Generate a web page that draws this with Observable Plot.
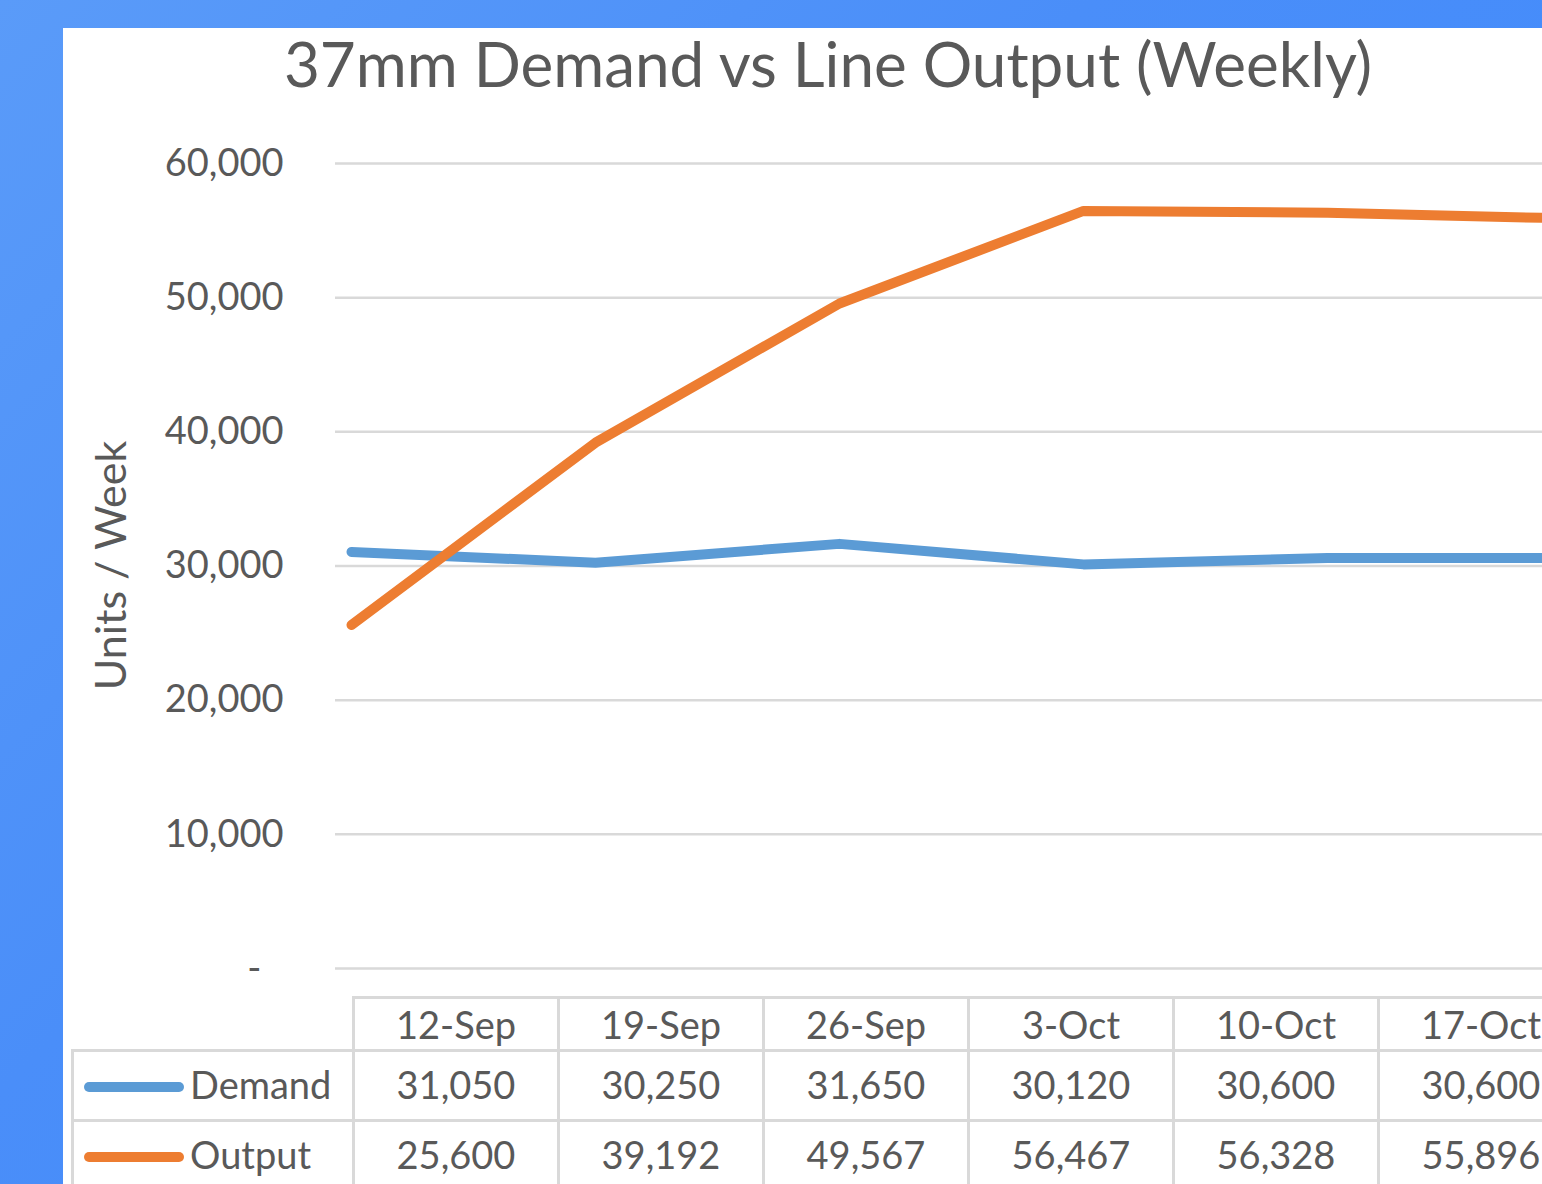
<!DOCTYPE html>
<html>
<head>
<meta charset="utf-8">
<script src="https://cdn.jsdelivr.net/npm/d3@7"></script>
<script src="https://cdn.jsdelivr.net/npm/@observablehq/plot@0.6"></script>
<style>
  html, body { margin: 0; padding: 0; }
  body {
    width: 1542px; height: 1184px; overflow: hidden; position: relative;
    background: linear-gradient(135deg, #5a9bf9 0%, #4a8ef9 40%, #3d89fd 100%);
    font-family: Lato, "Open Sans", sans-serif; color: #595959;
  }
  #panel { position: absolute; left: 63px; top: 28px; width: 1600px; height: 1200px; background: #fff; }
  #title { position: absolute; left: 0; top: 32px; width: 1656px; text-align: center;
    font-size: 62px; line-height: 1; color: #595959; white-space: nowrap; }
  #chart { position: absolute; left: 0; top: 0; width: 1620px; }
  #chart svg { max-width: none !important; }
  #tbl { position: absolute; left: 71px; top: 996px; width: 1509px; border-collapse: collapse; table-layout: fixed;
    font-size: 38px; color: #595959; }
  #tbl td, #tbl th { border: 3px solid #d9d9d9; text-align: center; font-weight: normal; padding: 0; white-space: nowrap; overflow: hidden; }
  #tbl tr.head th { height: 50px; }
  #tbl tr.row td { height: 63px; padding-bottom: 4px; }
  #tbl th.corner { border-top: none; border-left: none; border-bottom: none; }
  #tbl td.lab { text-align: left; padding-left: 10px; }
  .key { display: inline-block; width: 100px; height: 10px; border-radius: 5px; vertical-align: middle; margin-right: 6px; position: relative; top: -2px; }
</style>
</head>
<body>
<div id="panel"></div>
<div id="title">37mm Demand vs Line Output (Weekly)</div>
<div id="chart"></div>
<table id="tbl"></table>
<script>
const weeks = ["12-Sep", "19-Sep", "26-Sep", "3-Oct", "10-Oct", "17-Oct"];
const demand = [31050, 30250, 31650, 30120, 30600, 30600];
const output = [25600, 39192, 49567, 56467, 56328, 55896];
const seriesNames = ["Demand", "Output"];
const seriesColors = ["#5b9bd5", "#ed7d31"];
const yTicks = [0, 10000, 20000, 30000, 40000, 50000, 60000];
const yTitle = "Units / Week";

const rows = [];
weeks.forEach((w, i) => {
  rows.push({week: w, series: "Demand", value: demand[i]});
  rows.push({week: w, series: "Output", value: output[i]});
});

const fmt = d3.format(",");
const chart = Plot.plot({
  width: 1620,
  height: 990,
  marginLeft: 335,
  marginRight: 0,
  marginTop: 162,
  marginBottom: 22,
  style: {fontFamily: "Lato, 'Open Sans', sans-serif", fontSize: "38px", color: "#595959", background: "transparent", overflow: "visible", maxWidth: "none"},
  x: {type: "point", domain: weeks, range: [351, 1571], padding: 0, axis: null},
  y: {domain: [0, 60000], range: [968, 163]},
  color: {domain: seriesNames, range: seriesColors},
  marks: [
    Plot.gridY(yTicks, {stroke: "#d9d9d9", strokeOpacity: 1, strokeWidth: 2.5}),
    Plot.axisY(yTicks, {
      tickSize: 0, tickPadding: 52,
      tickFormat: d => d === 0 ? "-\u2007" : fmt(d),
      label: null,
      fontSize: 38
    }),
    Plot.text([yTitle], {
      frameAnchor: "left", dx: -223, rotate: -90, text: d => d,
      fontSize: 43, fill: "#595959", textAnchor: "middle", lineAnchor: "middle"
    }),
    Plot.line(rows, {
      x: "week", y: "value", z: "series", stroke: "series",
      strokeWidth: 10, strokeLinecap: "round", strokeLinejoin: "round"
    })
  ]
});
document.getElementById("chart").appendChild(chart);

// data table below the chart, built from the same arrays
const tbl = document.getElementById("tbl");
const colgroup = document.createElement("colgroup");
[281, ...weeks.map(() => 205)].forEach(w => {
  const c = document.createElement("col"); c.style.width = w + "px"; colgroup.appendChild(c);
});
tbl.appendChild(colgroup);
const head = document.createElement("tr"); head.className = "head";
const corner = document.createElement("th"); corner.className = "corner"; head.appendChild(corner);
weeks.forEach(w => { const th = document.createElement("th"); th.textContent = w; head.appendChild(th); });
tbl.appendChild(head);
[demand, output].forEach((vals, si) => {
  const tr = document.createElement("tr"); tr.className = "row";
  const lab = document.createElement("td"); lab.className = "lab";
  const key = document.createElement("span"); key.className = "key"; key.style.background = seriesColors[si];
  lab.appendChild(key); lab.appendChild(document.createTextNode(seriesNames[si]));
  tr.appendChild(lab);
  vals.forEach(v => { const td = document.createElement("td"); td.textContent = fmt(v); tr.appendChild(td); });
  tbl.appendChild(tr);
});
</script>
</body>
</html>
